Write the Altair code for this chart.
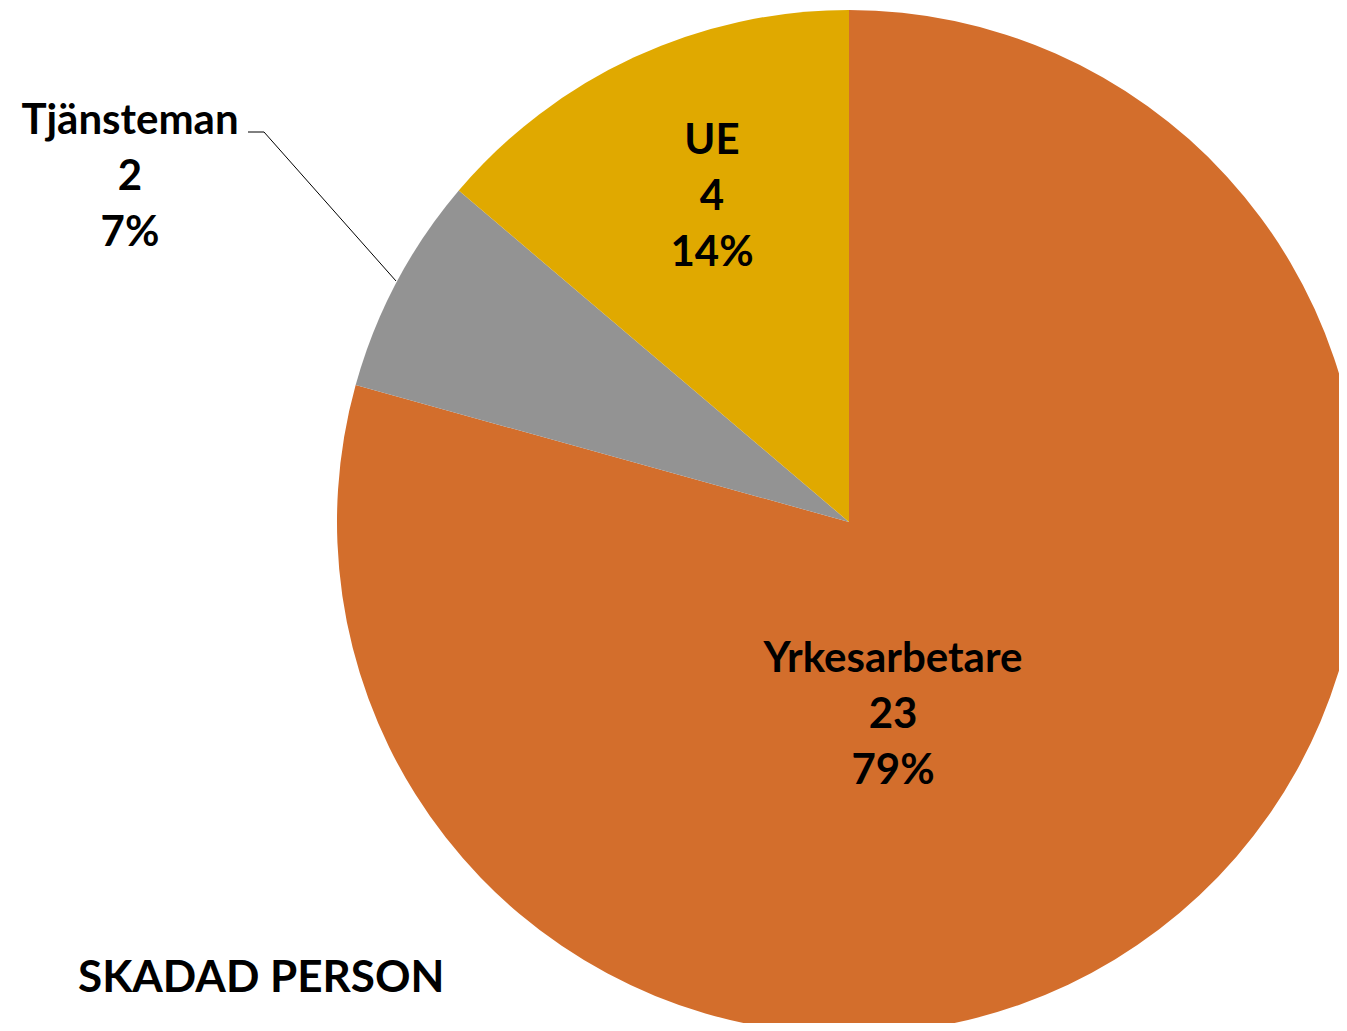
import altair as alt
import pandas as pd

# ---- data ----
categories = ["Yrkesarbetare", "Tjänsteman", "UE"]
values = [23, 2, 4]
colors = ["#D36E2C", "#939393", "#E0A900"]
title_text = "SKADAD PERSON"

df = pd.DataFrame({"category": categories, "value": values,
                   "order": list(range(len(categories)))})

# ---- layout ----
W, H = 1331, 1015
CX, CY, R = 841, 514, 512
FONT = "Lato"
LABEL_SIZE = 42
LINE_H = 56
label_pos = {"Yrkesarbetare": (885, 651), "UE": (704, 133), "Tjänsteman": (122, 113)}

base = alt.Chart(df)

pie = base.mark_arc(radius=R, strokeWidth=0).encode(
    theta=alt.Theta("value:Q", stack=True),
    color=alt.Color("category:N", scale=alt.Scale(domain=categories, range=colors), legend=None),
    order=alt.Order("order:Q"),
    x=alt.value(CX),
    y=alt.value(CY),
)

layers = [pie]
for cat in categories:
    px, py = label_pos[cat]
    t = (
        base.transform_joinaggregate(total="sum(value)")
        .transform_filter(alt.datum.category == cat)
        .transform_calculate(
            label="[datum.category, format(datum.value, 'd'), format(datum.value / datum.total, '.0%')]"
        )
        .mark_text(font=FONT, fontSize=LABEL_SIZE, fontWeight="bold", lineHeight=LINE_H,
                   align="center", baseline="middle", color="black")
        .encode(text="label:N", x=alt.value(px), y=alt.value(py))
    )
    layers.append(t)

leader_src = base.transform_filter(alt.datum.category == "Tjänsteman")
leader1 = leader_src.mark_rule(color="black", strokeWidth=1).encode(
    x=alt.value(240), y=alt.value(124), x2=alt.value(256), y2=alt.value(124))
leader2 = leader_src.mark_rule(color="black", strokeWidth=1).encode(
    x=alt.value(256), y=alt.value(124), x2=alt.value(388), y2=alt.value(273))
layers += [leader1, leader2]

title = alt.Chart(pd.DataFrame({"t": [title_text]})).mark_text(
    font=FONT, fontSize=44, fontWeight="bold", align="left", baseline="alphabetic", color="black"
).encode(text="t:N", x=alt.value(70), y=alt.value(984))
layers.append(title)

chart = alt.layer(*layers).properties(
    width=W, height=H, autosize=alt.AutoSizeParams(type="none"), padding=0
).configure_view(strokeWidth=0)

chart.save("out.html", embed_options={"renderer": "svg", "actions": False})
